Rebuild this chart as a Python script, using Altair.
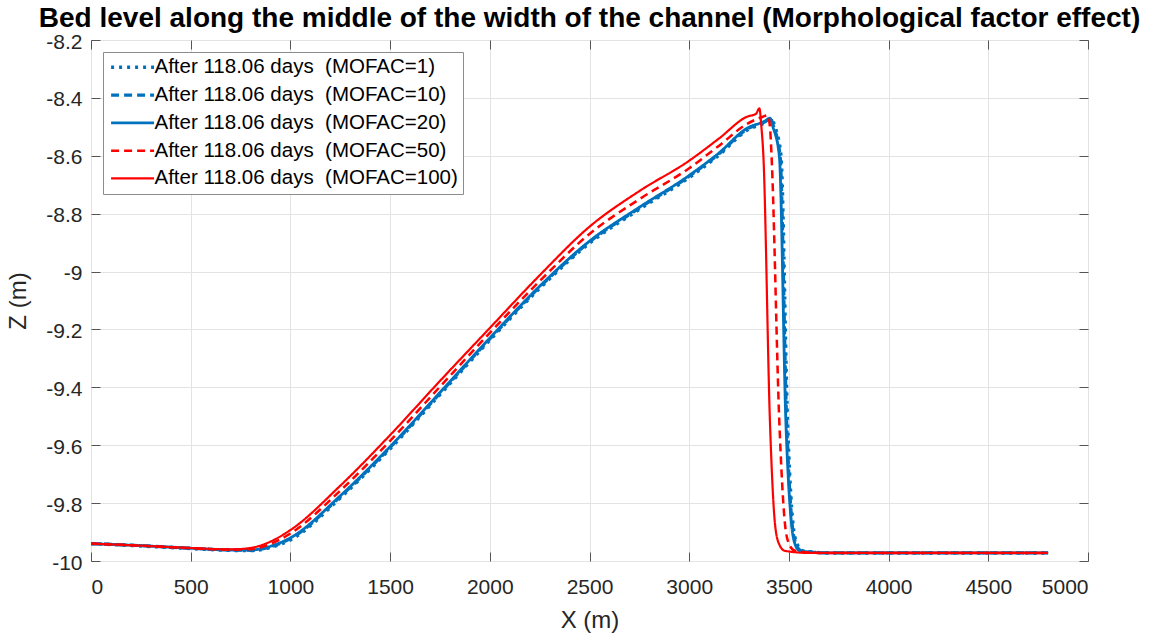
import altair as alt
import pandas as pd

TITLE = "Bed level along the middle of the width of the channel (Morphological factor effect)"
FONT = "Liberation Sans"

# MOFAC values of the five runs (all at 118.06 days)
mofac = [1, 10, 20, 50, 100]

# Bed level profiles, X (m) and Z (m)
x_mofac1 = [0, 250, 500, 700, 800, 900, 1000, 1250, 1500, 1750, 2000, 2250, 2500, 2750,
            3000, 3150, 3290, 3385, 3412, 3430, 3460, 3493, 3520, 3540, 3570, 3700, 4800]
z_mofac1 = [-9.940, -9.948, -9.957, -9.963, -9.964, -9.953, -9.927, -9.782, -9.612, -9.425,
            -9.237, -9.058, -8.902, -8.785, -8.675, -8.597, -8.512, -8.484, -8.472, -8.50,
            -8.60, -9.52, -9.87, -9.94, -9.965, -9.972, -9.972]

x_mofac10 = [0, 250, 500, 700, 800, 900, 1000, 1250, 1500, 1750, 2000, 2250, 2500, 2750,
             3000, 3150, 3290, 3382, 3408, 3424, 3456, 3489, 3516, 3535, 3562, 3700, 4800]
z_mofac10 = [-9.940, -9.947, -9.956, -9.962, -9.963, -9.951, -9.923, -9.778, -9.608, -9.421,
             -9.233, -9.054, -8.898, -8.781, -8.671, -8.593, -8.508, -8.482, -8.471, -8.50,
             -8.60, -9.52, -9.87, -9.94, -9.965, -9.972, -9.972]

x_mofac20 = [0, 250, 500, 700, 800, 900, 1000, 1250, 1500, 1750, 2000, 2250, 2500, 2750,
             3000, 3150, 3290, 3380, 3405, 3420, 3452, 3485, 3513, 3530, 3555, 3700, 4800]
z_mofac20 = [-9.940, -9.947, -9.956, -9.962, -9.962, -9.949, -9.920, -9.775, -9.605, -9.418,
             -9.230, -9.051, -8.895, -8.778, -8.668, -8.590, -8.505, -8.480, -8.470, -8.50,
             -8.60, -9.52, -9.87, -9.94, -9.965, -9.972, -9.972]

x_mofac50 = [0, 250, 500, 700, 800, 900, 1000, 1250, 1500, 1750, 2000, 2250, 2500, 2750,
             3000, 3150, 3290, 3370, 3393, 3405, 3413, 3452, 3480, 3500, 3530, 3650, 4800]
z_mofac50 = [-9.940, -9.947, -9.956, -9.961, -9.959, -9.941, -9.905, -9.757, -9.585, -9.398,
             -9.212, -9.033, -8.870, -8.750, -8.643, -8.565, -8.490, -8.465, -8.460, -8.50,
             -8.60, -9.52, -9.87, -9.94, -9.965, -9.972, -9.972]

x_mofac100 = [0, 250, 500, 700, 800, 900, 1000, 1250, 1500, 1750, 2000, 2250, 2500, 2750,
              3000, 3150, 3290, 3335, 3352, 3362, 3372, 3405, 3430, 3450, 3480, 3600, 4800]
z_mofac100 = [-9.940, -9.947, -9.955, -9.960, -9.955, -9.933, -9.893, -9.740, -9.565, -9.378,
              -9.195, -9.013, -8.845, -8.722, -8.617, -8.540, -8.465, -8.455, -8.436, -8.50,
              -8.60, -9.52, -9.87, -9.94, -9.965, -9.972, -9.972]

profiles_x = [x_mofac1, x_mofac10, x_mofac20, x_mofac50, x_mofac100]
profiles_z = [z_mofac1, z_mofac10, z_mofac20, z_mofac50, z_mofac100]

# Axis ticks
x_ticks = [0, 500, 1000, 1500, 2000, 2500, 3000, 3500, 4000, 4500, 5000]
z_ticks = [-10.0, -9.8, -9.6, -9.4, -9.2, -9.0, -8.8, -8.6, -8.4, -8.2]

# Line styles per run
line_colors = ["#0072BD", "#0072BD", "#0072BD", "#FF0000", "#FF0000"]
line_dashes = [[3, 5], [8, 5], [1, 0], [8, 5], [1, 0]]
line_widths = [3.5, 2.2, 2.2, 2.2, 2.2]

# Legend entries (non-breaking spaces keep the double gap and the box's right margin)
labels = [f"After 118.06 days\u00a0 (MOFAC={m})\u00a0\u00a0\u00a0\u00a0" for m in mofac]

rows = []
for lab, xs, zs in zip(labels, profiles_x, profiles_z):
    for x, z in zip(xs, zs):
        rows.append({"series": lab, "x": x, "z": z})
df = pd.DataFrame(rows)

W, H = 997, 521

xscale = alt.Scale(domain=[0, 5000], nice=False, zero=False)
yscale = alt.Scale(domain=[-10, -8.2], nice=False, zero=False)

legend = alt.Legend(
    title=None,
    orient="none",
    legendX=12,
    legendY=12,
    symbolType="M-1,0H5",
    symbolSize=205,
    labelFont=FONT,
    labelFontSize=20.5,
    labelColor="#000000",
    labelOffset=26,
    rowPadding=6.8,
    padding=5,
    fillColor="white",
    strokeColor="#8c8c8c",
    labelLimit=500,
)

lines = alt.Chart(df).mark_line(interpolate="monotone", clip=True).encode(
    x=alt.X("x:Q", scale=xscale,
            axis=alt.Axis(values=x_ticks, title="X (m)", ticks=False, grid=True,
                          labelExpr="'' + datum.value",
                          domain=False, labelPadding=15, titleFontSize=24,
                          titleFontWeight="normal", titlePadding=11)),
    y=alt.Y("z:Q", scale=yscale,
            axis=alt.Axis(values=z_ticks, title="Z (m)", ticks=False,
                          labelExpr="'' + datum.value", labelOffset=2,
                          grid=True, domain=False, labelPadding=9, titleFontSize=24,
                          titleFontWeight="normal", titlePadding=15)),
    color=alt.Color("series:N", scale=alt.Scale(domain=labels, range=line_colors), legend=legend),
    strokeDash=alt.StrokeDash("series:N", scale=alt.Scale(domain=labels, range=line_dashes), legend=legend),
    strokeWidth=alt.StrokeWidth("series:N", scale=alt.Scale(domain=labels, range=line_widths), legend=legend),
)

# Inward-pointing ticks on all four sides of the box
ghost = alt.Chart(df).mark_point(opacity=0)
tick_axis = dict(labels=False, domain=False, grid=False, ticks=True, tickSize=9,
                 tickColor="#555555", title=None)
ticks_a = ghost.encode(
    x=alt.X("x:Q", scale=xscale, axis=alt.Axis(orient="bottom", offset=-H, values=x_ticks, **tick_axis)),
    y=alt.Y("z:Q", scale=yscale, axis=alt.Axis(orient="right", offset=-W, values=z_ticks, **tick_axis)),
)
ticks_b = ghost.encode(
    x=alt.X("x:Q", scale=xscale, axis=alt.Axis(orient="top", offset=-H, values=x_ticks, **tick_axis)),
    y=alt.Y("z:Q", scale=yscale, axis=alt.Axis(orient="left", offset=-W, values=z_ticks, **tick_axis)),
)

chart = alt.layer(lines, ticks_a, ticks_b).resolve_axis(
    x="independent", y="independent"
).properties(
    width=W,
    height=H,
    autosize="none",
    padding={"left": 91, "top": 40, "right": 72, "bottom": 76},
    title=alt.TitleParams(text=TITLE, font=FONT, fontSize=28, fontWeight="bold",
                          color="#000000", anchor="middle", offset=0, dy=2),
).configure_view(
    stroke="#8f8f8f", strokeWidth=1
).configure_axis(
    labelFont=FONT, labelFontSize=21, labelColor="#262626",
    titleFont=FONT, titleColor="#262626",
    gridColor="#e3e3e3", gridWidth=1,
)

chart.save("out.html", embed_options={"renderer": "svg", "actions": False})
